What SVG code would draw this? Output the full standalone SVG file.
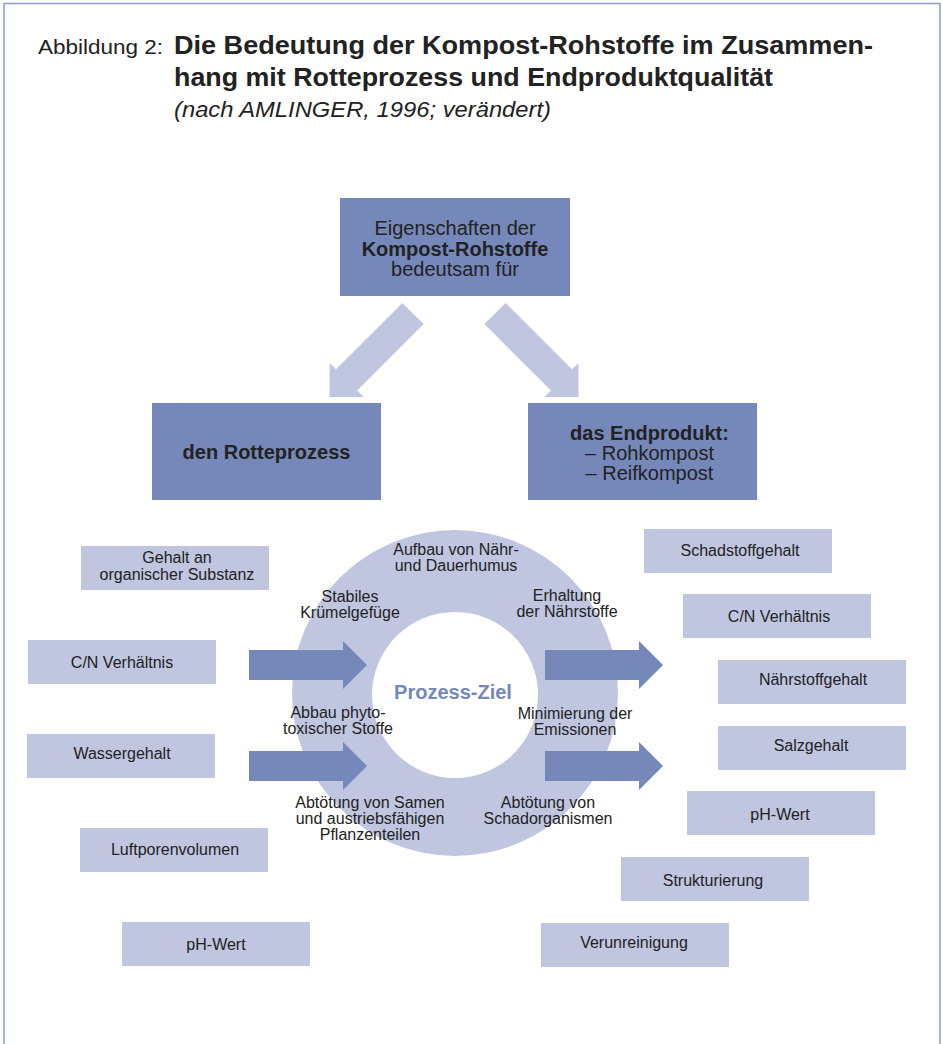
<svg xmlns="http://www.w3.org/2000/svg" width="942" height="1044" viewBox="0 0 942 1044">
<style>
text{font-family:"Liberation Sans",Arial,Helvetica,sans-serif;fill:#222;}
.lbl{font-size:16px;text-anchor:middle;}
.big{font-size:20px;text-anchor:middle;}
.b{font-weight:bold;}
.dark{fill:#7588b9;}
.light{fill:#c0c6e0;}
</style>
<defs>
<path id="arr" d="M0,-15 H94 V-24 L118,0 L94,24 V15 H0 Z"/>
</defs>
<rect width="942" height="1044" fill="#fff"/>
<path d="M4,1044 V3.5 H940 V1044" fill="none" stroke="#8e9cc8" stroke-width="1.5"/>
<g id="title">
<text x="38" y="54" font-size="20" textLength="125" lengthAdjust="spacingAndGlyphs">Abbildung 2:</text>
<text x="174" y="54" font-size="26" font-weight="bold" textLength="699" lengthAdjust="spacingAndGlyphs">Die Bedeutung der Kompost-Rohstoffe im Zusammen-</text>
<text x="174" y="86" font-size="26" font-weight="bold" textLength="599" lengthAdjust="spacingAndGlyphs">hang mit Rotteprozess und Endproduktqualität</text>
<text x="174" y="117" font-size="22" font-style="italic" textLength="377" lengthAdjust="spacingAndGlyphs">(nach AMLINGER, 1996; verändert)</text>
</g>
<g id="ring">
<circle cx="455" cy="693" r="163" class="light"/>
<circle cx="455" cy="695" r="83" fill="#fff"/>
</g>
<g id="connectors">
<use href="#arr" class="light" transform="translate(413,313.5) rotate(135)"/>
<use href="#arr" class="light" transform="translate(495,313.5) rotate(45)"/>
<use href="#arr" class="dark" transform="translate(249,665)"/>
<use href="#arr" class="dark" transform="translate(249,766)"/>
<use href="#arr" class="dark" transform="translate(545,665)"/>
<use href="#arr" class="dark" transform="translate(545,766)"/>
</g>
<g id="n-top">
<rect x="340" y="198" width="230" height="98" class="dark"/>
<text class="big" x="455" y="235">Eigenschaften der</text>
<text class="big b" x="455" y="256">Kompost-Rohstoffe</text>
<text class="big" x="455" y="276">bedeutsam für</text>
</g>
<g id="n-rotte">
<rect x="152" y="403" width="229" height="97" class="dark"/>
<text class="big b" x="266.5" y="459">den Rotteprozess</text>
</g>
<g id="n-end">
<rect x="528" y="403" width="229" height="97" class="dark"/>
<text class="big" x="649.5" y="440"><tspan class="b">das Endprodukt:</tspan><tspan x="649.5" dy="20">– Rohkompost</tspan><tspan x="649.5" dy="20">– Reifkompost</tspan></text>
</g>
<g id="n-ziel">
<text x="453" y="699" font-size="20" font-weight="bold" text-anchor="middle" style="fill:#7588b9">Prozess-Ziel</text>
</g>
<g id="ring-labels">
<text class="lbl" x="456" y="555">Aufbau von Nähr-<tspan x="456" dy="16">und Dauerhumus</tspan></text>
<text class="lbl" x="350" y="601.5">Stabiles<tspan x="350" dy="16">Krümelgefüge</tspan></text>
<text class="lbl" x="567" y="601">Erhaltung<tspan x="567" dy="16">der Nährstoffe</tspan></text>
<text class="lbl" x="338" y="718">Abbau phyto-<tspan x="338" dy="16">toxischer Stoffe</tspan></text>
<text class="lbl" x="575" y="719">Minimierung der<tspan x="575" dy="16">Emissionen</tspan></text>
<text class="lbl" x="370" y="808">Abtötung von Samen<tspan x="370" dy="16">und austriebsfähigen</tspan><tspan x="370" dy="16">Pflanzenteilen</tspan></text>
<text class="lbl" x="548" y="808">Abtötung von<tspan x="548" dy="16">Schadorganismen</tspan></text>
</g>
<g id="l-organik"><rect x="81" y="546" width="188" height="44" class="light"/><text class="lbl" x="177" y="563">Gehalt an<tspan x="177" dy="17">organischer Substanz</tspan></text></g>
<g id="l-cn"><rect x="28" y="640" width="188" height="44" class="light"/><text class="lbl" x="122" y="668">C/N Verhältnis</text></g>
<g id="l-wasser"><rect x="27" y="734" width="188" height="44" class="light"/><text class="lbl" x="122" y="759">Wassergehalt</text></g>
<g id="l-luft"><rect x="80" y="828" width="188" height="44" class="light"/><text class="lbl" x="175" y="855">Luftporenvolumen</text></g>
<g id="l-ph"><rect x="122" y="922" width="188" height="44" class="light"/><text class="lbl" x="216" y="950">pH-Wert</text></g>
<g id="r-schad"><rect x="644" y="529" width="188" height="44" class="light"/><text class="lbl" x="740" y="556">Schadstoffgehalt</text></g>
<g id="r-cn"><rect x="683" y="594" width="188" height="44" class="light"/><text class="lbl" x="779" y="622">C/N Verhältnis</text></g>
<g id="r-naehr"><rect x="718" y="660" width="188" height="44" class="light"/><text class="lbl" x="813" y="685">Nährstoffgehalt</text></g>
<g id="r-salz"><rect x="718" y="726" width="188" height="44" class="light"/><text class="lbl" x="811" y="751">Salzgehalt</text></g>
<g id="r-ph"><rect x="687" y="791" width="188" height="44" class="light"/><text class="lbl" x="780" y="820">pH-Wert</text></g>
<g id="r-struk"><rect x="621" y="857" width="188" height="44" class="light"/><text class="lbl" x="713" y="886">Strukturierung</text></g>
<g id="r-verun"><rect x="541" y="923" width="188" height="44" class="light"/><text class="lbl" x="634" y="948">Verunreinigung</text></g>
</svg>
